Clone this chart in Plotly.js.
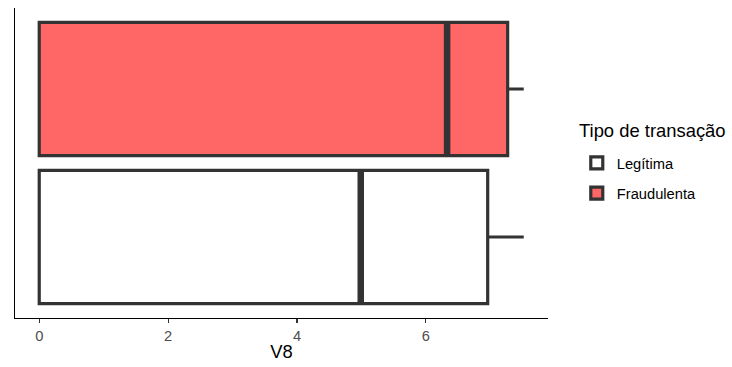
<!DOCTYPE html>
<html><head><meta charset="utf-8">
<script src="https://cdn.plot.ly/plotly-3.0.1.min.js"></script>
<style>html,body{margin:0;padding:0;background:#fff}</style>
</head><body>
<div id="chart" style="width:732px;height:367px"></div>
<script>
const categories = ["Legítima", "Fraudulenta"];
const lowerFence = [0, 0];
const q1 = [0, 0];
const medians = [4.99, 6.33];
const q3 = [6.96, 7.27];
const upperFence = [7.52, 7.52];
const fills = ["#FFFFFF", "#FF6666"];
const tickValues = [0, 2, 4, 6];
const tickLabels = ["0", "2", "4", "6"];
const legendTitle = "Tipo de transação";
const boxWidth = 0.9;

const traces = [];
categories.forEach((c, i) => {
  traces.push({
    type: "box", orientation: "h", name: c, legendgroup: "g" + i,
    y: [i + 1], q1: [q1[i]], median: [medians[i]], q3: [q3[i]],
    lowerfence: [lowerFence[i]], upperfence: [upperFence[i]],
    width: boxWidth, whiskerwidth: 0,
    fillcolor: fills[i], line: {color: "#333333", width: 3.2},
    hoverinfo: "skip", showlegend: true
  });
});
categories.forEach((c, i) => {
  traces.push({
    type: "scatter", mode: "lines", showlegend: false, hoverinfo: "skip",
    x: [medians[i], medians[i]], y: [i + 1 - boxWidth / 2, i + 1 + boxWidth / 2],
    line: {color: "#333333", width: 6.5}
  });
});

const layout = {
  width: 732, height: 367,
  margin: {l: 15, r: 184, t: 8, b: 49},
  paper_bgcolor: "#fff", plot_bgcolor: "#fff",
  font: {family: "Arial, 'Liberation Sans', sans-serif", color: "#000"},
  xaxis: {
    range: [-0.376, 7.896], tickvals: tickValues, ticktext: tickLabels,
    showgrid: false, zeroline: false, showline: true, linecolor: "#000", linewidth: 1.1,
    ticks: "outside", ticklen: 4, tickcolor: "#333", tickwidth: 1.1,
    tickfont: {size: 14.7, color: "#4D4D4D"},
    title: {text: "V8", font: {size: 18.4, color: "#000"}, standoff: 2}
  },
  yaxis: {
    range: [0.453, 2.547], showticklabels: false, ticks: "",
    showgrid: false, zeroline: false, showline: true, linecolor: "#000", linewidth: 1.1
  },
  legend: {
    x: 1.054, xanchor: "left", y: 0.552, yanchor: "top",
    traceorder: "grouped", tracegroupgap: 8,
    font: {size: 14.7, color: "#000"}, itemwidth: 30
  },
  annotations: [{
    text: legendTitle, xref: "paper", yref: "paper", x: 1.054, y: 0.606,
    xanchor: "left", yanchor: "middle", showarrow: false,
    font: {size: 18.4, color: "#000"}
  }],
  showlegend: true
};
Plotly.newPlot("chart", traces, layout, {staticPlot: true, displayModeBar: false});
</script>
</body></html>
